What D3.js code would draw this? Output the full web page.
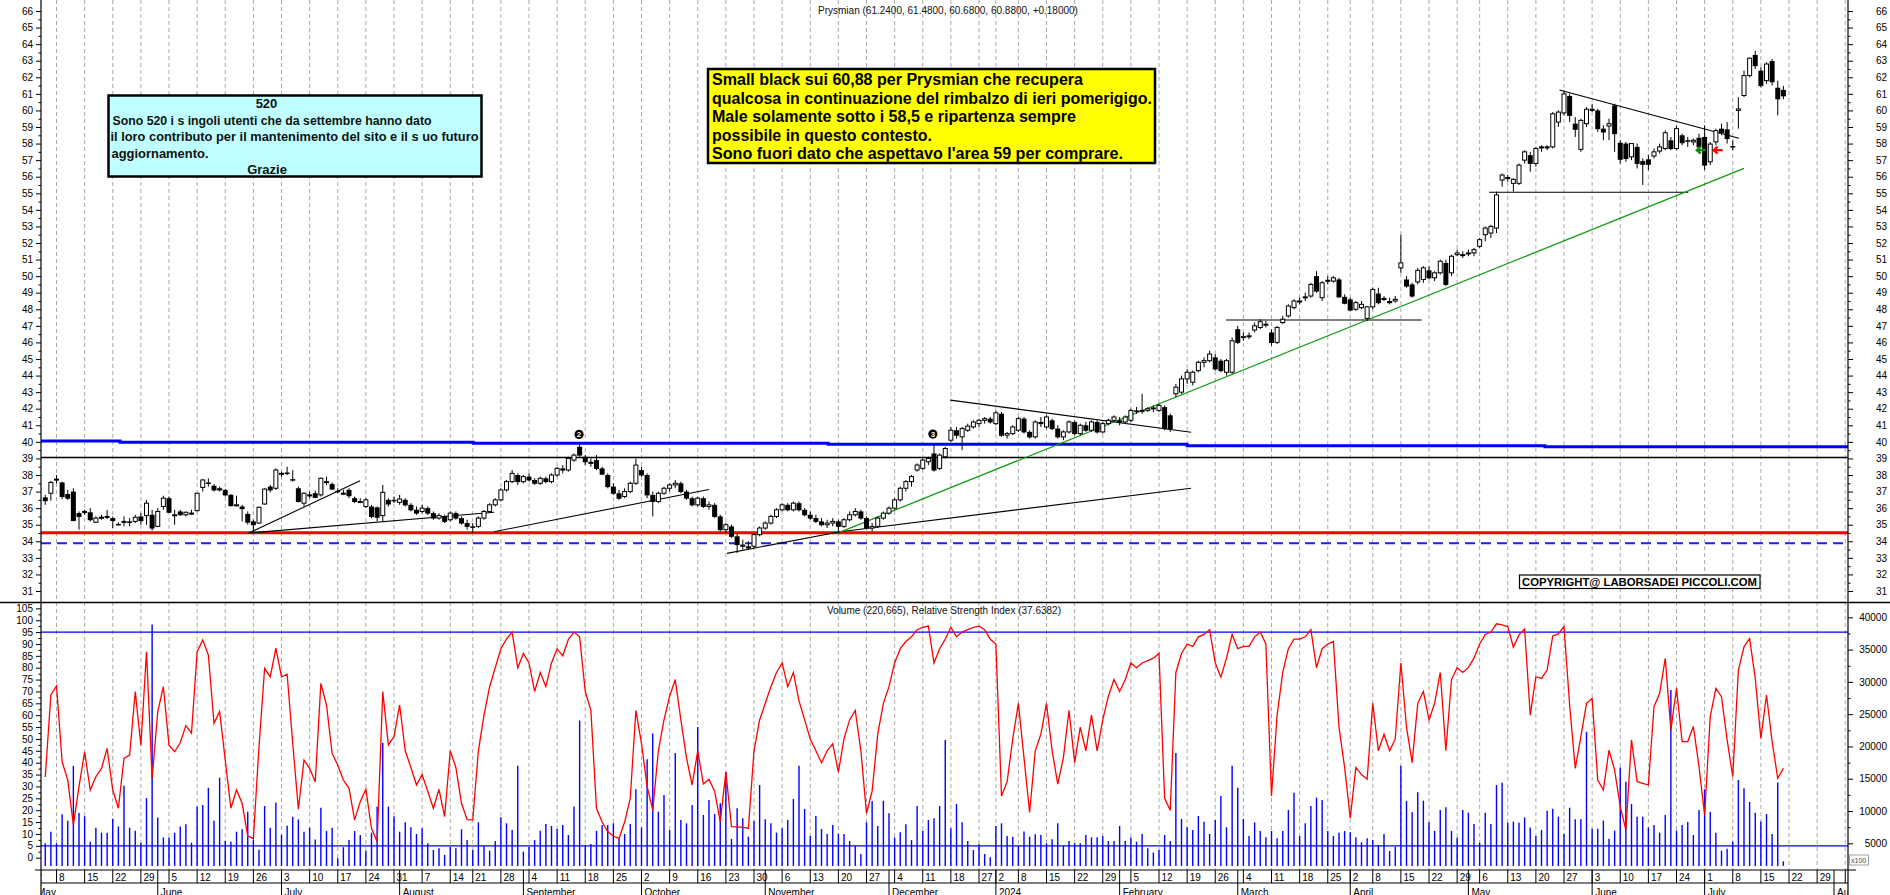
<!DOCTYPE html>
<html><head><meta charset="utf-8">
<script src="https://cdn.jsdelivr.net/npm/d3@7"></script>
<style>
html,body{margin:0;padding:0;background:#fff;}
svg{display:block;}
text{font-family:"Liberation Sans",Arial,sans-serif;}
</style></head><body>
<svg id="c" width="1890" height="895"></svg>
<script>
// ---------------- DATA ----------------
const calStart = "2023-05-02", calEnd = "2024-08-10", firstCandle = "2023-05-04";
const holidays = ["2023-08-15","2023-12-25","2023-12-26","2024-01-01","2024-03-29","2024-04-01","2024-05-01"];
const monthNames = ["May","June","July","August","September","October","November","December","2024","February","March","April","May","June","July","August"];

// [open, high, low, close] per trading day from 2023-05-04
const ohlc = [
[36.65,36.8,36.2,36.45],[36.9,37.65,36.45,37.55],[37.7,38.0,37.5,37.75],[37.55,37.6,36.55,36.7],[36.85,37.1,36.5,36.6],
[37.0,37.2,35.2,35.25],[35.7,35.8,34.7,35.5],[35.75,35.9,35.6,35.8],[35.75,36.0,35.2,35.3],[35.15,35.5,35.1,35.4],
[35.4,35.6,35.3,35.45],[35.5,35.9,35.35,35.5],[35.4,35.5,34.8,35.25],[35.05,35.15,34.95,35.0],[35.2,35.5,34.9,35.2],
[35.2,35.4,34.9,35.15],[35.2,35.6,35.1,35.45],[35.5,35.7,35.0,35.25],[35.55,36.5,35.0,36.3],[35.6,35.9,34.65,34.8],
[34.9,36.0,34.85,35.8],[36.1,36.75,35.9,36.6],[36.6,36.7,35.7,35.75],[35.6,35.9,35.0,35.6],[35.8,35.9,35.55,35.6],
[35.6,35.8,35.5,35.75],[35.7,35.9,35.6,35.7],[35.85,36.9,35.8,36.9],[37.25,37.75,37.0,37.7],[37.55,37.8,37.3,37.5],
[37.35,37.45,37.0,37.1],[37.2,37.3,37.0,37.1],[37.1,37.15,36.7,36.8],[36.8,36.85,36.1,36.15],[36.2,36.75,36.1,36.2],
[36.1,36.2,35.2,35.97],[35.65,35.8,35.0,35.15],[35.2,35.3,34.5,35.0],[35.1,36.1,35.05,36.05],[36.25,37.2,36.2,37.15],
[37.3,37.4,36.95,37.1],[37.2,38.4,37.1,38.3],[38.05,38.2,37.9,38.1],[38.15,38.5,38.0,38.1],[37.75,38.3,37.6,37.7],
[37.2,37.3,36.35,36.4],[36.3,36.95,36.1,36.9],[36.8,37.0,36.6,36.8],[36.9,37.05,36.6,36.65],[36.8,37.85,36.7,37.8],
[37.6,37.9,37.4,37.6],[37.45,37.55,37.1,37.15],[37.05,37.2,36.9,37.0],[36.9,37.1,36.8,36.9],[37.1,37.2,36.6,36.75],
[36.6,36.7,36.3,36.4],[36.4,36.6,36.3,36.4],[36.1,36.6,36.0,36.5],[36.1,36.2,35.4,35.5],[36.05,36.1,35.2,35.45],
[35.55,37.4,35.2,36.95],[36.5,36.6,36.1,36.25],[36.5,36.7,36.3,36.45],[36.35,36.8,36.2,36.55],[36.5,36.6,36.1,36.2],
[36.2,36.3,35.8,35.9],[35.9,36.1,35.6,35.7],[35.8,36.2,35.7,36.0],[36.0,36.1,35.6,35.7],[35.7,35.8,35.3,35.4],
[35.4,35.7,35.3,35.55],[35.5,35.6,35.1,35.2],[35.3,35.8,35.2,35.7],[35.7,35.8,35.3,35.4],[35.4,35.5,35.0,35.1],
[35.1,35.3,34.7,34.9],[34.9,35.1,34.5,34.85],[34.9,35.5,34.8,35.4],[35.4,35.9,35.3,35.8],[35.8,36.3,35.7,36.2],
[36.2,36.6,36.1,36.5],[36.5,37.2,36.4,37.1],[37.1,37.7,37.0,37.6],[37.6,38.3,37.5,38.1],[38.0,38.1,37.4,37.6],
[37.6,38.0,37.5,37.9],[37.9,38.1,37.6,37.7],[37.7,37.8,37.4,37.5],[37.5,37.9,37.4,37.8],[37.8,37.9,37.5,37.6],
[37.6,38.1,37.5,38.0],[38.0,38.5,37.9,38.4],[38.4,38.6,38.1,38.3],[38.3,39.1,38.2,39.0],[38.9,39.3,38.8,39.2],
[39.7,39.9,39.1,39.2],[39.1,39.2,38.6,38.8],[38.8,39.0,38.5,38.7],[38.9,39.2,38.3,38.4],[38.4,38.5,38.0,38.05],
[38.0,38.1,37.2,37.3],[37.3,37.5,36.8,36.9],[36.9,37.1,36.5,36.6],[36.7,37.2,36.6,37.0],[37.0,37.6,36.9,37.5],
[37.5,39.0,37.4,38.6],[38.3,38.5,37.9,38.0],[38.0,38.1,36.6,36.8],[36.8,37.0,35.5,36.4],[36.4,37.0,36.3,36.9],
[36.9,37.3,36.8,37.2],[37.2,37.5,37.0,37.4],[37.4,37.7,37.2,37.5],[37.5,37.6,36.9,37.0],[37.0,37.1,36.5,36.6],
[36.6,36.7,36.1,36.2],[36.2,36.7,36.1,36.6],[36.6,36.7,36.0,36.1],[36.1,36.4,35.9,36.2],[36.2,36.3,35.4,35.5],
[35.5,35.6,34.6,34.7],[34.7,35.1,34.5,35.0],[34.9,35.0,34.2,34.3],[34.3,34.5,33.3,33.8],[33.8,34.1,33.5,33.7],
[33.7,34.0,33.5,33.6],[33.7,34.5,33.6,34.4],[34.4,34.9,34.3,34.8],[34.8,35.2,34.7,35.1],[35.1,35.6,35.0,35.5],
[35.5,36.0,35.4,35.9],[35.9,36.3,35.8,36.2],[36.2,36.3,35.8,35.9],[35.9,36.4,35.8,36.3],[36.3,36.4,35.8,35.9],
[35.9,36.0,35.5,35.6],[35.6,35.8,35.3,35.4],[35.4,35.6,35.1,35.2],[35.2,35.4,34.9,35.0],[35.0,35.3,34.8,35.1],
[35.1,35.4,34.9,35.2],[35.2,35.3,34.5,34.9],[34.9,35.4,34.8,35.3],[35.3,35.8,35.2,35.6],[35.6,36.0,35.5,35.8],
[35.8,35.9,35.3,35.4],[35.4,35.5,34.7,34.8],[34.8,35.1,34.6,34.9],[34.9,35.5,34.8,35.4],[35.4,35.8,35.3,35.7],
[35.7,36.1,35.6,36.0],[36.0,36.6,35.9,36.5],[36.5,37.3,36.4,37.2],[37.2,37.7,37.0,37.6],[37.6,38.0,37.3,37.9],
[38.3,38.7,38.2,38.6],[38.4,39.0,38.3,38.9],[38.8,39.1,38.6,39.0],[39.3,39.8,38.2,38.3],[38.4,39.3,38.3,39.2],
[39.1,39.7,39.0,39.6],[40.1,40.9,40.0,40.7],[40.7,40.9,40.2,40.4],[40.3,40.9,39.5,40.8],[40.7,41.1,40.6,40.95],
[40.9,41.3,40.8,41.2],[41.1,41.4,40.9,41.3],[41.3,41.5,41.1,41.4],[41.4,41.5,41.1,41.2],[41.1,41.9,41.0,41.75],
[41.7,41.8,40.3,40.4],[40.4,40.6,40.2,40.5],[40.5,41.0,40.4,40.9],[40.7,41.5,40.6,41.4],[41.4,41.5,40.5,40.6],
[40.6,40.7,40.2,40.3],[40.3,41.3,40.2,41.2],[41.2,41.5,40.9,41.1],[40.9,41.6,40.8,41.5],[41.3,41.4,40.7,40.8],
[40.8,41.0,40.2,40.3],[40.3,40.7,40.1,40.6],[40.6,41.3,40.5,41.2],[41.2,41.3,40.4,40.5],[40.5,41.1,40.4,41.0],
[41.0,41.2,40.6,40.7],[40.7,41.3,40.6,41.2],[41.2,41.3,40.5,40.6],[40.6,41.2,40.5,41.1],[41.1,41.4,41.0,41.3],
[41.3,41.6,41.2,41.5],[41.3,41.5,41.0,41.2],[41.2,41.6,41.1,41.5],[41.3,42.0,41.2,41.9],[41.9,42.1,41.7,41.85],
[41.85,42.9,41.7,41.9],[41.9,42.1,41.8,42.0],[42.0,42.2,41.8,42.05],[41.9,42.3,41.8,42.2],[42.1,42.2,40.7,40.8],
[41.6,41.7,40.6,40.8],[42.9,43.5,42.7,43.3],[43.0,44.0,42.9,43.8],[43.8,44.4,43.5,44.2],[43.6,44.3,43.4,44.2],
[44.3,44.9,44.2,44.8],[44.8,45.1,44.5,44.9],[44.9,45.5,44.8,45.3],[45.1,45.3,44.3,44.4],[44.9,45.0,44.2,44.3],
[44.2,45.0,44.0,44.9],[44.2,46.3,44.1,46.1],[46.8,47.0,45.9,46.0],[46.3,46.6,46.1,46.35],[46.4,46.6,46.2,46.4],
[46.75,47.2,46.6,47.0],[46.9,47.4,46.8,47.25],[47.1,47.3,46.9,47.1],[46.6,46.8,45.8,46.0],[46.0,47.0,45.9,46.9],
[47.2,47.6,47.1,47.4],[47.6,48.3,47.5,48.2],[48.1,48.6,48.0,48.5],[48.5,48.7,48.3,48.5],[48.75,49.0,48.5,48.75],
[48.8,49.6,48.7,49.5],[50.0,50.3,49.0,49.1],[48.7,49.7,48.5,49.6],[49.7,50.0,49.5,49.75],[49.7,50.0,49.6,49.9],
[49.8,49.9,48.7,48.75],[48.75,48.9,48.3,48.36],[48.6,48.7,47.9,47.95],[48.0,48.5,47.9,48.4],[48.1,48.5,48.0,48.3],
[47.45,48.2,47.3,48.15],[48.15,49.3,48.0,49.2],[48.95,49.3,48.3,48.4],[48.6,48.8,48.5,48.65],[48.5,48.7,48.3,48.4],
[48.5,48.8,48.4,48.6],[50.5,52.5,50.2,50.8],[49.8,50.0,49.3,49.4],[49.5,49.6,48.7,48.8],[49.65,50.5,49.5,50.35],
[49.8,50.6,49.6,50.5],[50.35,50.6,49.8,49.9],[49.9,50.3,49.7,50.2],[50.2,51.0,50.1,50.9],[50.8,51.0,49.4,49.5],
[50.2,51.3,50.0,51.2],[51.3,51.6,51.2,51.4],[51.3,51.5,51.1,51.3],[51.4,51.6,51.2,51.4],[51.4,51.7,51.2,51.6],
[51.8,52.3,51.7,52.2],[52.5,53.0,52.1,52.9],[52.6,53.1,52.3,53.0],[52.9,55.1,52.6,54.9],[55.8,56.2,55.4,56.1],
[55.9,56.1,55.7,55.95],[55.6,55.9,55.1,55.84],[55.6,56.8,55.5,56.7],[57.0,57.6,56.8,57.5],[57.3,57.5,56.3,56.8],
[56.8,57.8,56.6,57.7],[57.8,57.9,57.5,57.8],[57.8,57.9,57.6,57.8],[57.8,59.9,57.7,59.8],[59.3,60.0,59.0,59.9],
[59.85,61.2,59.7,61.0],[60.87,61.0,59.3,59.7],[59.2,59.6,58.4,58.86],[57.65,59.5,57.5,59.4],[59.2,60.2,59.0,60.07],
[60.0,60.4,59.9,60.07],[60.0,60.1,58.7,58.9],[58.9,59.1,58.2,58.7],[59.06,59.5,58.2,59.2],[60.3,60.4,57.5,58.6],
[58.05,58.2,56.8,57.05],[58.0,58.1,56.9,57.1],[57.2,58.0,57.0,58.0],[57.8,58.0,56.5,56.8],[56.95,57.1,55.5,56.75],
[57.05,57.3,56.4,56.75],[57.25,57.7,57.1,57.5],[57.55,58.0,57.4,57.8],[57.7,58.8,57.6,58.65],[58.2,58.4,57.6,57.7],
[57.7,59.1,57.6,58.9],[58.5,58.6,57.9,58.05],[58.2,58.4,57.8,58.15],[58.1,58.3,57.9,58.2],[58.35,58.6,57.6,57.8],
[58.4,59.1,56.4,56.7],[56.9,58.1,56.7,57.97],[58.1,58.9,57.9,58.78],[58.9,59.2,58.5,58.65],[58.86,59.3,58.0,58.3],
[57.85,58.2,57.6,57.8],[60.0,60.8,58.9,60.09],[60.9,62.4,60.8,62.1],[62.1,63.2,62.0,63.15],[63.35,63.6,62.5,62.7],
[62.4,62.6,61.4,61.5],[61.8,62.9,61.6,62.8],[62.98,63.1,61.5,61.73],[61.37,61.8,59.7,60.7],[61.24,61.48,60.68,60.88]
];

// Relative Strength Index per day
const rsi = [
34,68.5,72.3,40.4,32.7,13.8,29.9,44.6,28.5,34.1,
37.6,46,28.5,20.8,41.8,43.2,69.9,47.4,86.7,33.4,
61.5,72,47.4,44.6,48.4,55.6,52.4,86.7,91.7,85.3,
56.6,61.5,41.1,20.8,28.5,22.9,9.1,8.1,46.7,79.7,
76.2,88.2,76.2,77.3,48.1,20.4,41.1,37.6,32,73.4,
64.3,43.9,39,32.7,29.2,15.9,23.6,28.8,12.4,6.7,
69.9,47.4,51,64.3,45,38,30.6,35,28,20.8,
28.8,17.3,45,38,22.9,16,15.9,45,60,72,
80,88,92,95,80,86,82,70,78,72,
82,88,85,92,95,93,70,62,20.8,15,
11,9,8.1,15,25,62,48,30,20,45,
58,68,75,58,42,30.6,45,31,33,28,
15.2,36,13.1,13,12.8,12.4,45,58,65,72,
78,82,72,78,66,58,50,45,40,45,
48,36,50,58,62,45,18.7,28,52,65,
72,82,88,91,93,96,97,97.5,82,88,
92,97,93,95,96,97,97.5,96,92,90,
26,32,50,65,42,19,45,52,65,45,
31,42,62,40,55,45,60,45,58,68,
75,70,75,82,80,82,83,84,86,25,
20,78,86,90,89,93,94,96,82,76,
84,94,88,89,89,93,95,90,26,60,
78,88,92,92,93,96,80,88,90,91,
55,38,16.6,38,35,33,65,45,52,45,
50,82,55,40,65,70,58,65,78,45,
75,80,78,80,84,90,94,95,98.5,98,
97.3,88.6,93.8,96.3,60,76.2,75.5,79,93.4,94.2,
97.3,64.3,37.6,51,65,67.1,32.7,28.5,45.3,36.9,
21.5,11.7,49.6,32,31.3,30.6,63.6,69.2,83.9,53.8,
71.3,48.9,48.9,55.2,38.4,18,59.4,71.3,67.8,49.6,
34.1,79,88.8,92.3,75.5,50.2,68.5,48.9,33.4,37.64
];

// Volume (x100) per day
const volume = [
5000,6800,5000,9500,8500,17000,9700,9200,5250,7400,
6650,6650,8800,7600,13900,7400,6950,5100,12000,38900,
9000,5900,5900,6650,7600,7950,5100,10670,10930,13600,
8500,15160,5350,5250,6800,7170,9900,5600,4000,10780,
7400,11300,6300,7700,9100,8700,6800,7400,5600,10500,
6900,7400,2700,4400,5500,6900,6300,3850,6650,10670,
20580,10670,9200,6800,8250,7480,6440,7320,5000,3970,
4230,3200,4480,4230,7170,5500,3970,8250,4590,3870,
5360,9020,8100,7060,17000,3710,4480,5500,6960,7990,
7680,7220,7840,6290,10680,24000,4740,4900,6910,7840,
7840,8100,5770,6440,7990,13360,7430,18000,22000,9900,
12480,7060,19000,8610,8100,10930,23000,9390,11700,9540,
11190,16000,5670,10420,8870,6030,8460,14030,8720,8100,
6650,7320,8610,11860,17000,10320,6130,9240,7220,6440,
7840,6440,6440,5360,4590,3350,8250,11550,7680,11600,
9640,5880,6700,7940,5500,10780,6960,8610,8870,10780,
21000,7320,11090,8250,5360,3970,4850,3350,2830,7680,
8100,6130,6030,4590,6810,6030,6390,6290,5000,5620,
8100,4590,5360,5000,5000,6290,5930,5930,6130,5360,
5360,7680,5360,5880,5260,6440,4230,3560,3970,6290,
5360,19000,8770,7500,7060,9230,8350,6440,8610,12330,
7480,17000,13620,8770,6130,8250,6910,5930,6910,5770,
6910,10160,12840,6130,8100,10780,12070,11700,6910,6130,
6650,6910,6700,5930,5150,5770,5520,4740,6440,3810,
4480,17000,11550,9800,12900,11600,8250,6910,10160,10570,
6910,5880,10160,9750,7990,5100,9750,7990,14030,14390,
8200,8360,8200,9000,7430,6140,7060,10060,10370,9130,
6450,10520,8720,8720,22290,7270,7270,8510,5720,6960,
16720,14550,11090,9130,9130,7430,7840,6650,9390,28750,
6960,7840,8300,6290,10160,13360,9850,6650,3860,4170,
5260,14800,13520,11400,9750,8360,9540,6450,14400,2207
];

// tick labels
const priceTicks = [31,32,33,34,35,36,37,38,39,40,41,42,43,44,45,46,47,48,49,50,51,52,53,54,55,56,57,58,59,60,61,62,63,64,65,66];
const rsiTicks = [0,5,10,15,20,25,30,35,40,45,50,55,60,65,70,75,80,85,90,95,100,105];
const volTicks = [5000,10000,15000,20000,25000,30000,35000,40000];

// horizontal levels and drawn lines (day-index, price)
const maSteps = [[-2,40.05],[13.3,39.98],[76.1,39.92],[139.2,39.85],[203,39.77],[266.6,39.71],[322,39.71]];
const resistance = 39.06, support = 34.52, stopLevel = 33.88;
const blackTrends = [
 [[36.05,34.48],[55.96,37.65]],
 [[36.4,34.5],[79.8,35.75]],
 [[79.8,34.58],[118,37.13]],
 [[121.2,33.27],[141.3,34.58]],
 [[141.3,34.58],[203.7,37.2]],
 [[160.9,42.52],[203.7,40.58]],
 [[209.9,47.35],[244.7,47.35]],
 [[256.7,55.06],[292.1,55.06]],
 [[269.2,61.23],[301.1,58.32]]
];
const greenTrend = [[141.3,34.55],[302.0,56.5]];
const markers = [{i:94.9, p:40.45, t:"2"},{i:157.8, p:40.47, t:"3"}];
const arrows = [{i:293.6, p:57.6, c:"#0a8a0a"},{i:296.6, p:57.6, c:"#ff0000"}];
const rsiLevels = [95, 5];
const volFloor = 1500;

// ---------------- CHART ----------------
const W=1890, H=895, L=41, R=1848, sep=602.5, vBot=870, row1=883;
const svg = d3.select("#c");
svg.append("rect").attr("width",W).attr("height",H).attr("fill","#fff");
const defs = svg.append("defs");
defs.append("clipPath").attr("id","cp").append("rect").attr("x",L).attr("y",0).attr("width",R-L).attr("height",sep);
defs.append("clipPath").attr("id","cv").append("rect").attr("x",L).attr("y",sep+1).attr("width",R-L).attr("height",vBot-sep-1);
defs.append("clipPath").attr("id","ca").append("rect").attr("x",L).attr("y",0).attr("width",R-L).attr("height",H);

const yP = d3.scaleLinear().domain([31,66]).range([591,11]);
const yR = d3.scaleLinear().domain([0,105]).range([857.67,608.33]);
const yV = d3.scaleLinear().domain([5000,40000]).range([843.3,617.3]);

const parse = d3.utcParse("%Y-%m-%d"), fmt = d3.utcFormat("%Y-%m-%d");
const cal = d3.utcDays(parse(calStart), parse(calEnd)).filter(d=>{const w=d.getUTCDay();return w!==0&&w!==6&&!holidays.includes(fmt(d));});
const pos0 = cal.findIndex(d=>fmt(d)===firstCandle);
const xs = d3.scaleLinear().domain([pos0,pos0+1]).range([45.25,50.875]);
const xi = i => xs(pos0+i);

const weekStarts=[], monthStarts=[];
cal.forEach((d,k)=>{
  if(k===0 || +d3.utcMonday.floor(d)!==+d3.utcMonday.floor(cal[k-1])) weekStarts.push(k);
  if(k===0 || d.getUTCMonth()!==cal[k-1].getUTCMonth()) monthStarts.push(k);
});

// gridlines
const gAll = svg.append("g").attr("clip-path","url(#ca)");
gAll.selectAll("line.grid").data(weekStarts).join("line")
  .attr("x1",k=>xs(k)).attr("x2",k=>xs(k)).attr("y1",0).attr("y2",vBot)
  .attr("stroke","#a9a9a9").attr("stroke-width",1).attr("stroke-dasharray","4,3");

// price panel
const gp = svg.append("g").attr("clip-path","url(#cp)");
gp.append("path").datum(maSteps)
  .attr("d", d3.line().x(d=>xi(d[0])).y(d=>yP(d[1])).curve(d3.curveStepAfter))
  .attr("fill","none").attr("stroke","#0000ff").attr("stroke-width",3);
gp.append("line").attr("x1",L).attr("x2",R).attr("y1",yP(resistance)).attr("y2",yP(resistance)).attr("stroke","#000").attr("stroke-width",1.4);
gp.append("line").attr("x1",L).attr("x2",R).attr("y1",yP(support)).attr("y2",yP(support)).attr("stroke","#ff0000").attr("stroke-width",3);
gp.append("line").attr("x1",L).attr("x2",R).attr("y1",yP(stopLevel)).attr("y2",yP(stopLevel)).attr("stroke","#1f1fe6").attr("stroke-width",1.8).attr("stroke-dasharray","10,6");

const tl = d3.line().x(d=>xi(d[0])).y(d=>yP(d[1]));
gp.selectAll("path.tr").data(blackTrends).join("path").attr("d",tl).attr("fill","none").attr("stroke","#000").attr("stroke-width",1.1);
gp.append("path").datum(greenTrend).attr("d",tl).attr("fill","none").attr("stroke","#119a11").attr("stroke-width",1.3);

// candles
const gc = gp.append("g");
ohlc.forEach((c,i)=>{
  const [o,h,l,cl]=c, x=xi(i);
  gc.append("line").attr("x1",x).attr("x2",x).attr("y1",yP(h)).attr("y2",yP(l)).attr("stroke","#000").attr("stroke-width",1);
  const top=yP(Math.max(o,cl)), bot=yP(Math.min(o,cl));
  const hgt=Math.max(bot-top,1);
  if(cl>=o){
    gc.append("rect").attr("x",x-2).attr("y",top).attr("width",4).attr("height",hgt).attr("fill","#fff").attr("stroke","#000").attr("stroke-width",1);
  } else {
    gc.append("rect").attr("x",x-2.5).attr("y",top).attr("width",5).attr("height",hgt+0.5).attr("fill","#000");
  }
});

// markers
markers.forEach(m=>{
  gp.append("circle").attr("cx",xi(m.i)).attr("cy",yP(m.p)).attr("r",4.6).attr("fill","#000");
  gp.append("text").attr("x",xi(m.i)).attr("y",yP(m.p)+3).attr("text-anchor","middle").attr("font-size",8).attr("font-weight","bold").attr("fill","#fff").text(m.t);
});
arrows.forEach(a=>{
  const x=xi(a.i), y=yP(a.p);
  gp.append("path").attr("d",`M${x+9},${y} L${x},${y} M${x+4},${y-3.5} L${x},${y} L${x+4},${y+3.5}`)
    .attr("fill","none").attr("stroke",a.c).attr("stroke-width",2.2);
});

// volume panel
const gv = svg.append("g").attr("clip-path","url(#cv)");
rsiLevels.forEach(v=>gv.append("line").attr("x1",L).attr("x2",R).attr("y1",yR(v)).attr("y2",yR(v)).attr("stroke","#0000ff").attr("stroke-width",1.2));
gv.selectAll("line.vb").data(volume).join("line")
  .attr("x1",(d,i)=>xi(i)).attr("x2",(d,i)=>xi(i)).attr("y1",yV(volFloor)).attr("y2",d=>yV(d))
  .attr("stroke","#0000ff").attr("stroke-width",1.4);
gv.append("path").datum(rsi).attr("d",d3.line().x((d,i)=>xi(i)).y(d=>yR(d)))
  .attr("fill","none").attr("stroke","#ff0000").attr("stroke-width",1.3);

// axes
const fam = '"Liberation Sans",Arial,sans-serif';
function styleAx(g, right){
  g.attr("font-family",fam).attr("font-size",10);
  g.select(".domain").remove();
  g.selectAll(".tick line").attr("stroke","#000");
  g.selectAll(".tick text").attr("fill","#000");
  if(right) g.selectAll(".tick text").attr("text-anchor","end").attr("x",1887-R);
}
const half = a => a.slice(0,-1).map((v,k)=>(v+a[k+1])/2);
styleAx(svg.append("g").attr("transform",`translate(${L},0)`).call(d3.axisLeft(yP).tickValues(priceTicks).tickSize(5).tickPadding(3).tickFormat(d3.format("d"))));
styleAx(svg.append("g").attr("transform",`translate(${L},0)`).call(d3.axisLeft(yP).tickValues(half(priceTicks)).tickSize(2.5).tickFormat("")));
styleAx(svg.append("g").attr("transform",`translate(${R},0)`).call(d3.axisRight(yP).tickValues(priceTicks).tickSize(5).tickFormat(d3.format("d"))), true);
styleAx(svg.append("g").attr("transform",`translate(${R},0)`).call(d3.axisRight(yP).tickValues(half(priceTicks)).tickSize(2.5).tickFormat("")));
styleAx(svg.append("g").attr("transform",`translate(${L},0)`).call(d3.axisLeft(yR).tickValues(rsiTicks).tickSize(5).tickPadding(3).tickFormat(d3.format("d"))));
styleAx(svg.append("g").attr("transform",`translate(${L},0)`).call(d3.axisLeft(yR).tickValues(half(rsiTicks)).tickSize(2.5).tickFormat("")));
styleAx(svg.append("g").attr("transform",`translate(${R},0)`).call(d3.axisRight(yV).tickValues(volTicks).tickSize(5).tickFormat(d3.format("d"))), true);
styleAx(svg.append("g").attr("transform",`translate(${R},0)`).call(d3.axisRight(yV).tickValues(half(volTicks)).tickSize(2.5).tickFormat("")));

// frame lines
svg.append("line").attr("x1",0).attr("x2",W).attr("y1",sep).attr("y2",sep).attr("stroke","#000").attr("stroke-width",1.5);
svg.append("line").attr("x1",L-6).attr("x2",R+8).attr("y1",vBot).attr("y2",vBot).attr("stroke","#000").attr("stroke-width",1.2);
svg.append("line").attr("x1",L).attr("x2",R).attr("y1",row1).attr("y2",row1).attr("stroke","#000").attr("stroke-width",1.2);
svg.append("line").attr("x1",L).attr("x2",L).attr("y1",0).attr("y2",H).attr("stroke","#000").attr("stroke-width",1.2);
svg.append("line").attr("x1",R).attr("x2",R).attr("y1",0).attr("y2",H).attr("stroke","#000").attr("stroke-width",1.2);

// date axis
const gd = svg.append("g").attr("clip-path","url(#ca)").attr("font-family",fam).attr("font-size",10);
weekStarts.forEach(k=>{
  const x=xs(k);
  gd.append("line").attr("x1",x).attr("x2",x).attr("y1",vBot).attr("y2",row1).attr("stroke","#000").attr("stroke-width",1);
  gd.append("text").attr("x",x+2.5).attr("y",880.5).attr("fill","#000").text(cal[k].getUTCDate());
});
monthStarts.forEach((k,m)=>{
  const x=xs(k);
  gd.append("line").attr("x1",x).attr("x2",x).attr("y1",vBot).attr("y2",H).attr("stroke","#000").attr("stroke-width",1);
  gd.append("text").attr("x",x+3).attr("y",895.5).attr("fill","#000").text(monthNames[m]);
});

// titles
svg.append("text").attr("x",948).attr("y",13.5).attr("text-anchor","middle").attr("font-size",10).attr("fill","#111")
  .text("Prysmian (61.2400, 61.4800, 60.6800, 60.8800, +0.18000)");
svg.append("text").attr("x",944).attr("y",613.5).attr("text-anchor","middle").attr("font-size",10).attr("fill","#111")
  .text("Volume (220,665), Relative Strength Index (37.6382)");

// cyan box
svg.append("rect").attr("x",108.5).attr("y",95.5).attr("width",373).attr("height",81).attr("fill","#c0ffff").attr("stroke","#000").attr("stroke-width",2.5);
const cy = svg.append("g").attr("font-size",13).attr("font-weight","bold").attr("fill","#111");
cy.append("text").attr("x",266.5).attr("y",108).attr("text-anchor","middle").text("520");
cy.append("text").attr("x",112.5).attr("y",124.5).attr("textLength",319).attr("lengthAdjust","spacingAndGlyphs").text("Sono 520 i s ingoli utenti che da settembre hanno dato");
cy.append("text").attr("x",110.5).attr("y",141).attr("textLength",368).attr("lengthAdjust","spacingAndGlyphs").text("il loro contributo per il mantenimento del sito e il s uo futuro");
cy.append("text").attr("x",111.5).attr("y",157.5).attr("textLength",97).attr("lengthAdjust","spacingAndGlyphs").text("aggiornamento.");
cy.append("text").attr("x",267).attr("y",174.3).attr("text-anchor","middle").text("Grazie");

// yellow box
svg.append("rect").attr("x",708).attr("y",69).attr("width",447).attr("height",94).attr("fill","#ffff00").attr("stroke","#000").attr("stroke-width",2.5);
const yb = svg.append("g").attr("font-size",16).attr("font-weight","bold").attr("fill","#000");
[["Small black sui 60,88 per Prysmian che recupera",85,371],
 ["qualcosa in continuazione del rimbalzo di ieri pomerigigo.",103.5,440],
 ["Male solamente sotto i 58,5 e ripartenza sempre",122,364],
 ["possibile in questo contesto.",140.5,220],
 ["Sono fuori dato che aspettavo l'area 59 per comprare.",159,411]].forEach(r=>{
  yb.append("text").attr("x",712).attr("y",r[1]).attr("textLength",r[2]).attr("lengthAdjust","spacingAndGlyphs").text(r[0]);
});

// copyright
svg.append("rect").attr("x",1519.5).attr("y",575).attr("width",240.5).attr("height",13.5).attr("fill","#fff").attr("stroke","#000").attr("stroke-width",1.2);
svg.append("text").attr("x",1522).attr("y",586.3).attr("font-size",11).attr("font-weight","bold").attr("fill","#000")
  .attr("textLength",235).attr("lengthAdjust","spacingAndGlyphs").text("COPYRIGHT@ LABORSADEI PICCOLI.COM");

// x100
svg.append("rect").attr("x",1849.5).attr("y",855).attr("width",19).attr("height",10).attr("fill","#fff").attr("stroke","#888").attr("stroke-width",0.8);
svg.append("text").attr("x",1851).attr("y",863).attr("font-size",7).attr("fill","#444").text("x100");
</script></body></html>
